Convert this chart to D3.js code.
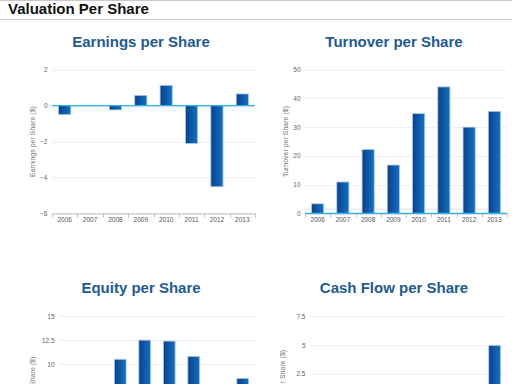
<!DOCTYPE html>
<html><head><meta charset="utf-8">
<script src="https://cdn.jsdelivr.net/npm/d3@7"></script>
<style>
html,body{margin:0;padding:0;background:#fff;overflow:hidden}
svg{display:block;font-family:"Liberation Sans",Arial,sans-serif}
</style></head><body>
<svg id="c" width="512" height="384"></svg>
<script>
const years = ["2006","2007","2008","2009","2010","2011","2012","2013"];
const earnings = [-0.5, 0, -0.24, 0.57, 1.13, -2.11, -4.52, 0.65];
const turnover = [3.3, 10.9, 22.2, 16.8, 34.7, 44.0, 30.0, 35.5];
const equity = [6.5, 7.2, 10.5, 12.5, 12.4, 10.8, 6.3, 8.5];
const cashflow = [0.3, 0.8, -0.4, 1.1, 1.4, -1.2, -0.9, 4.94];
const earningsTicks = [-6, -4, -2, 0, 2];
const turnoverTicks = [0, 10, 20, 30, 40, 50];
const equityTicks = [0, 2.5, 5, 7.5, 10, 12.5, 15];
const cashflowTicks = [-5, -2.5, 0, 2.5, 5, 7.5];

const svg = d3.select("#c");
svg.append("rect").attr("width",512).attr("height",384).attr("fill","#fff");
svg.append("line").attr("x1",0).attr("x2",512).attr("y1",0.5).attr("y2",0.5).attr("stroke","#c8c8c8");
svg.append("line").attr("x1",0).attr("x2",512).attr("y1",19.5).attr("y2",19.5).attr("stroke","#c8c8c8");
svg.append("text").attr("x",8).attr("y",14).attr("font-size",15).attr("font-weight","bold").attr("fill","#111").text("Valuation Per Share");

const defs = svg.append("defs");
const g = defs.append("linearGradient").attr("id","barGrad").attr("x1","0").attr("x2","1").attr("y1","0").attr("y2","0");
g.append("stop").attr("offset","0%").attr("stop-color","#0b3f8e");
g.append("stop").attr("offset","100%").attr("stop-color","#1173c1");

function drawChart(cfg){
  const {title, ytitle, values, ticks, x0, x1, top, titleX, domain} = cfg;
  const bottom = top + 143.6;
  const root = svg.append("g");
  const x = d3.scaleBand().domain(years).range([x0, x1]).paddingInner(0.52).paddingOuter(0.26);
  const xb = d3.scaleBand().domain(years).range([x0, x1]);
  const y = d3.scaleLinear().domain(domain).range([bottom, top]);

  root.append("text").attr("x", titleX).attr("y", top - 23).attr("text-anchor","middle")
    .attr("font-size",15).attr("font-weight","bold").attr("fill","#1e5b94").text(title);

  // grid
  root.selectAll(".grid").data(ticks).join("line")
    .attr("x1", x0).attr("x2", x1).attr("y1", d => Math.round(y(d))+0.5).attr("y2", d => Math.round(y(d))+0.5)
    .attr("stroke","#efefef");
  // y labels
  const yAxis = d3.axisLeft(y).tickValues(ticks).tickSize(0).tickPadding(0).tickFormat(d3.format("~g"));
  const ya = root.append("g").attr("transform",`translate(${x0-4.5},0)`).call(yAxis);
  ya.select(".domain").remove();
  ya.selectAll("text").attr("font-size",6.5).attr("fill","#666").attr("font-family","Liberation Sans, Arial, sans-serif");

  // y title
  root.append("text").attr("transform",`translate(${x0-17 - (cfg.tshift||0)},${(top+bottom)/2}) rotate(-90)`)
    .attr("text-anchor","middle").attr("font-size",7).attr("fill","#777").text(ytitle);

  // x axis
  const xAxis = d3.axisBottom(xb).tickSize(0).tickPadding(4);
  const xa = root.append("g").attr("transform",`translate(0,${Math.round(bottom)+0.5})`).call(xAxis);
  xa.select(".domain").attr("stroke","#c0c0c0");
  xa.selectAll("text").attr("font-size",6.5).attr("fill","#555").attr("font-family","Liberation Sans, Arial, sans-serif");
  const bounds = years.map(d => xb(d)).concat([x1]);
  root.selectAll(".xt").data(bounds).join("line")
    .attr("x1", d => Math.round(d)+0.5).attr("x2", d => Math.round(d)+0.5)
    .attr("y1", Math.round(bottom)+0.5).attr("y2", Math.round(bottom)+4.5).attr("stroke","#c0c0c0");

  // bars
  root.selectAll(".bar").data(values.map((v,i)=>({v, k: years[i]}))).join("rect")
    .attr("x", d => x(d.k)).attr("width", x.bandwidth())
    .attr("y", d => Math.min(y(d.v), y(0))).attr("height", d => Math.abs(y(d.v) - y(0)))
    .attr("fill","url(#barGrad)").attr("stroke","#a9c8e8").attr("stroke-width",0.8);

  // zero line
  root.append("line").attr("x1", x0).attr("x2", x1).attr("y1", y(0)).attr("y2", y(0))
    .attr("stroke","#2fb2ee").attr("stroke-width",1.2);
}

drawChart({title:"Earnings per Share", ytitle:"Earnings per Share ($)", values:earnings, ticks:earningsTicks,
  domain:[-6,2], x0:52, x1:255, top:69.7, titleX:141});
drawChart({title:"Turnover per Share", ytitle:"Turnover per Share ($)", values:turnover, ticks:turnoverTicks,
  domain:[0,50], x0:305, x1:507, top:69.7, titleX:394});
drawChart({title:"Equity per Share", ytitle:"Equity per Share ($)", values:equity, ticks:equityTicks,
  domain:[0,15], x0:59, x1:255, top:316.2, titleX:141, tshift:7});
drawChart({title:"Cash Flow per Share", ytitle:"Cash Flow per Share ($)", values:cashflow, ticks:cashflowTicks,
  domain:[-5,7.5], x0:310, x1:507, top:316.2, titleX:394, tshift:8});
</script>
</body></html>
